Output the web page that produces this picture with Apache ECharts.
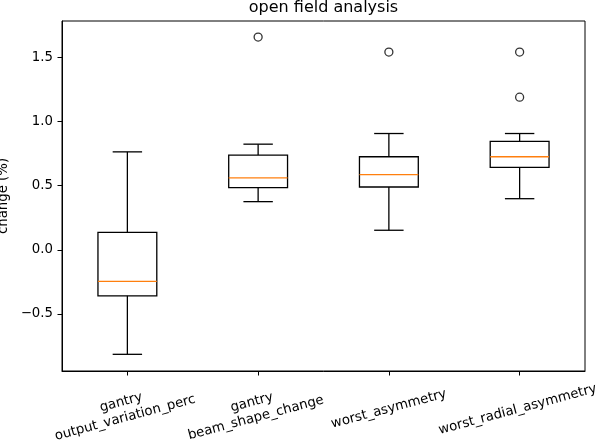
<!DOCTYPE html>
<html>
<head>
<meta charset="utf-8">
<script src="https://cdn.jsdelivr.net/npm/echarts@6/dist/echarts.min.js"></script>
<style>
html,body{margin:0;padding:0;background:#fff;}
#chart{width:600px;height:444px;}
</style>
</head>
<body>
<div id="chart"></div>
<script>
var categories = ['gantry\noutput_variation_perc', 'gantry\nbeam_shape_change', 'worst_asymmetry', 'worst_radial_asymmetry'];
var whiskerLow  = [-0.814, 0.376, 0.153, 0.399];
var quartile1   = [-0.358, 0.485, 0.490, 0.643];
var medians     = [-0.246, 0.562, 0.586, 0.726];
var quartile3   = [0.137, 0.739, 0.726, 0.845];
var whiskerHigh = [0.764, 0.824, 0.907, 0.907];
var outlierCategory = [1, 2, 3, 3];
var outlierValue    = [1.659, 1.542, 1.542, 1.190];
var yTicks = [-0.5, 0.0, 0.5, 1.0, 1.5];

var FONT = 'DejaVu Sans';
var TICK_FONT = 13.3;
var ROT = 15;
// extra downward shift of each rotated label (matplotlib centres the rotated box)
var labelShift = [17, 17, 0, 8];

var boxData = categories.map(function (c, i) {
  return [i, whiskerLow[i], quartile1[i], medians[i], quartile3[i], whiskerHigh[i]];
});
var outlierData = outlierCategory.map(function (c, i) { return [c, outlierValue[i]]; });

var rad = ROT * Math.PI / 180;
var axisCats = categories.map(function (c, i) {
  var d = labelShift[i];
  var a = 2 * d * Math.cos(rad);
  var b = 2 * d * Math.sin(rad);
  return {value: c, textStyle: {
    align: 'center', verticalAlign: 'middle',
    fontFamily: FONT, fontSize: TICK_FONT, color: '#000', lineHeight: 16,
    padding: [a, b, 0, 0]
  }};
});

function renderBox(params, api) {
  var idx = api.value(0);
  var band = api.size([1, 0])[0];
  var hw = band * 0.45 / 2;
  var cw = hw / 2;
  var pLow = api.coord([idx, api.value(1)]);
  var pQ1 = api.coord([idx, api.value(2)]);
  var pMed = api.coord([idx, api.value(3)]);
  var pQ3 = api.coord([idx, api.value(4)]);
  var pHigh = api.coord([idx, api.value(5)]);
  var x = pQ1[0];
  var st = {stroke: '#000', lineWidth: 1.3, fill: null};
  return {
    type: 'group',
    children: [
      {type: 'line', shape: {x1: x, y1: pQ1[1], x2: x, y2: pLow[1]}, style: st},
      {type: 'line', shape: {x1: x, y1: pQ3[1], x2: x, y2: pHigh[1]}, style: st},
      {type: 'line', shape: {x1: x - cw, y1: pLow[1], x2: x + cw, y2: pLow[1]}, style: st},
      {type: 'line', shape: {x1: x - cw, y1: pHigh[1], x2: x + cw, y2: pHigh[1]}, style: st},
      {type: 'rect', shape: {x: x - hw, y: pQ3[1], width: hw * 2, height: pQ1[1] - pQ3[1]}, style: {stroke: '#000', lineWidth: 1.3, fill: 'none'}},
      {type: 'line', shape: {x1: x - hw, y1: pMed[1], x2: x + hw, y2: pMed[1]}, style: {stroke: '#ff7f0e', lineWidth: 1.3}}
    ]
  };
}

var chart = echarts.init(document.getElementById('chart'), null, {renderer: 'canvas'});
chart.setOption({
  animation: false,
  backgroundColor: '#fff',
  title: {
    text: 'open field analysis',
    left: 323.5,
    textAlign: 'center',
    top: 0,
    padding: 0,
    textStyle: {fontFamily: FONT, fontSize: 16, fontWeight: 'normal', color: '#000'}
  },
  grid: {left: 62, right: 15, top: 21, bottom: 73, containLabel: false, outerBoundsMode: 'none',
         show: true, borderColor: '#000', borderWidth: 1, backgroundColor: 'transparent'},
  xAxis: {
    type: 'category',
    data: axisCats,
    boundaryGap: true,
    axisLine: {show: true, onZero: false, lineStyle: {color: '#000', width: 1}},
    axisTick: {show: true, alignWithLabel: true, interval: 0, length: 4.5, lineStyle: {color: '#000', width: 1}},
    axisLabel: {
      interval: 0, rotate: ROT, align: 'center', verticalAlign: 'middle', margin: 38,
      hideOverlap: false,
      fontFamily: FONT, fontSize: TICK_FONT, color: '#000', lineHeight: 16
    },
    splitLine: {show: false}
  },
  yAxis: {
    type: 'value',
    min: -0.944,
    max: 1.784,
    name: 'change (%)',
    nameLocation: 'middle',
    nameGap: 44,
    nameTextStyle: {fontFamily: FONT, fontSize: TICK_FONT, color: '#000'},
    axisLine: {show: true, onZero: false, lineStyle: {color: '#000', width: 1}},
    axisTick: {show: true, length: 4.5, customValues: yTicks, lineStyle: {color: '#000', width: 1}},
    axisLabel: {
      customValues: yTicks, margin: 9, fontFamily: FONT, fontSize: TICK_FONT, color: '#000',
      formatter: function (v) { return (v < 0 ? '\u2212' : '') + Math.abs(v).toFixed(1); }
    },
    splitLine: {show: false}
  },
  series: [
    {
      type: 'custom',
      renderItem: renderBox,
      data: boxData,
      encode: {x: 0, y: [1, 2, 3, 4, 5]},
      clip: false,
      z: 3
    },
    {
      type: 'scatter',
      data: outlierData,
      symbol: 'circle',
      symbolSize: 8,
      itemStyle: {color: 'rgba(0,0,0,0)', borderColor: '#000', borderWidth: 1.3},
      z: 4
    }
  ]
});
</script>
</body>
</html>
